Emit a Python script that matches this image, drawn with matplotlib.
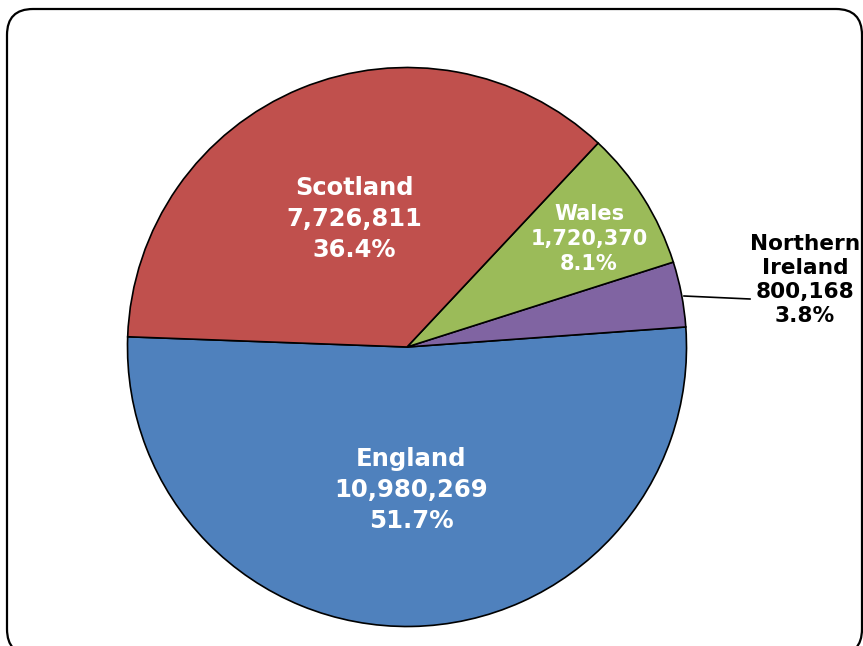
import matplotlib.pyplot as plt
from matplotlib.patches import FancyBboxPatch

# population by nation, drawn counter-clockwise from the England/Scotland edge
nations = ["England", "Northern\nIreland", "Wales", "Scotland"]
population = [10980269, 800168, 1720370, 7726811]
colours = ["#4F81BD", "#8064A2", "#9BBB59", "#C0504D"]

# label centres (px, from top-left), font size, line spacing, text colour
label_pos = [(411, 490), (805, 280), (589, 239), (354, 219)]
label_size = [17.6, 15.6, 15, 17.4]
label_spacing = [1.36, 1.24, 1.32, 1.38]
label_col = ["white", "black", "white", "white"]

W, H = 863, 646
fig = plt.figure(figsize=(W / 100, H / 100), dpi=100)
ax = fig.add_axes([0, 0, 1, 1])

cx, cy, r = 407, H - 347, 279.5
wedges, _ = ax.pie(population, colors=colours, startangle=177.9,
                   center=(cx, cy), radius=r,
                   wedgeprops=dict(edgecolor="black", linewidth=1.2))

ax.set_xlim(0, W)
ax.set_ylim(0, H)
ax.set_aspect("equal")
ax.axis("off")

total = sum(population)
for name, val, (px, py), fs, ls, col in zip(nations, population, label_pos,
                                            label_size, label_spacing, label_col):
    txt = f"{name}\n{val:,}\n{val / total * 100:.1f}%"
    ax.text(px, H - py, txt, ha="center", va="center", fontsize=fs,
            fontweight="bold", color=col, family="DejaVu Sans", linespacing=ls)

# leader line for Northern Ireland
ax.plot([684, 750], [H - 296, H - 299], color="black", linewidth=1.2)

# rounded chart frame
frame = FancyBboxPatch((7, H - 655), 855, 646, boxstyle="round,pad=0,rounding_size=26",
                       facecolor="none", edgecolor="black", linewidth=1.6, clip_on=False)
ax.add_patch(frame)

fig.savefig("out.png", dpi=100)
